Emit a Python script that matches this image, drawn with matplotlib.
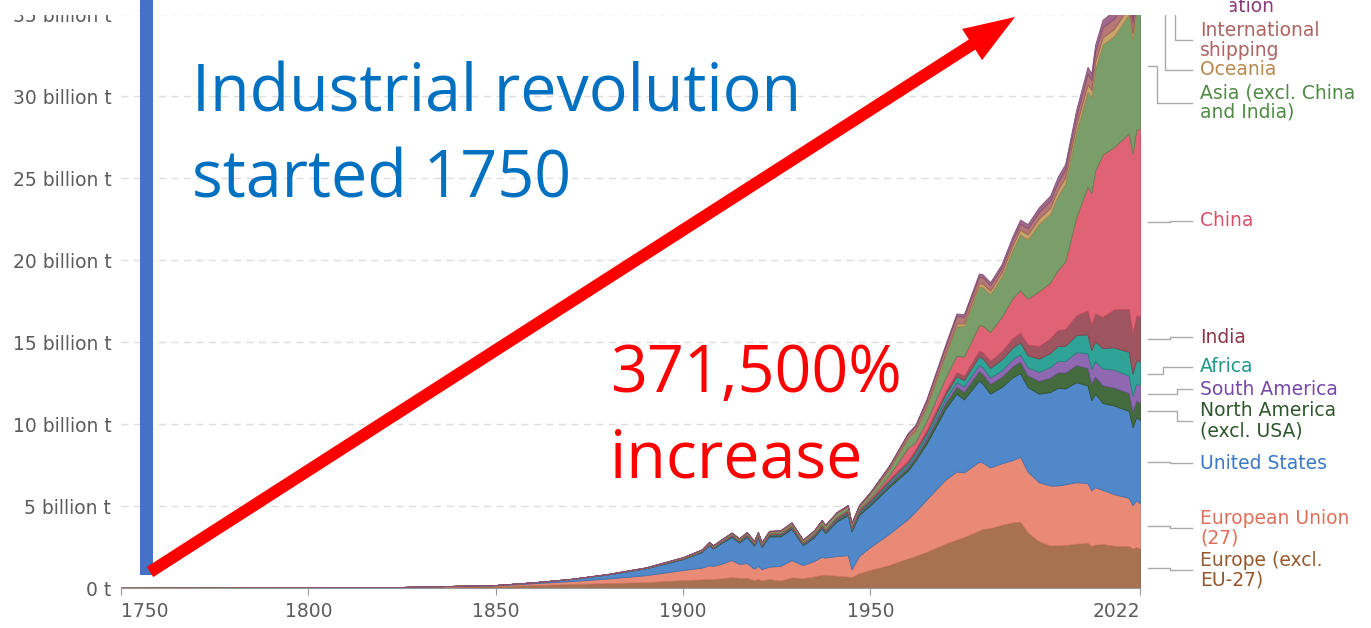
import matplotlib.pyplot as plt
from matplotlib.patches import Rectangle, FancyArrow
import numpy as np

# Annual CO2 emissions by world region, billion tonnes
years = [1750, 1775, 1800, 1825, 1850, 1860, 1870, 1880, 1890, 1900,
         1905, 1907, 1908, 1910, 1913, 1915, 1917, 1919, 1920, 1921,
         1923, 1926, 1929, 1932, 1935, 1937, 1938, 1941, 1944, 1945,
         1947, 1950, 1955, 1960, 1962, 1965, 1970, 1973, 1975, 1979,
         1980, 1982, 1985, 1988, 1990, 1992, 1995, 1998, 2000, 2002,
         2005, 2008, 2009, 2010, 2012, 2015, 2019, 2020, 2021, 2022]

europe_excl_eu27 = [0.009, 0.014, 0.025, 0.05, 0.11, 0.18, 0.24, 0.30, 0.36, 0.48,
                    0.52, 0.56, 0.55, 0.58, 0.66, 0.62, 0.62, 0.48, 0.55, 0.45,
                    0.55, 0.45, 0.65, 0.60, 0.70, 0.80, 0.80, 0.75, 0.70, 0.65,
                    0.90, 1.10, 1.40, 1.80, 1.95, 2.20, 2.70, 2.95, 3.10, 3.50,
                    3.60, 3.65, 3.85, 4.00, 4.05, 3.40, 2.85, 2.60, 2.60, 2.62,
                    2.70, 2.75, 2.55, 2.65, 2.68, 2.58, 2.55, 2.40, 2.50, 2.40]
eu27 = [0.001, 0.002, 0.003, 0.012, 0.05, 0.11, 0.18, 0.28, 0.42, 0.62,
        0.72, 0.82, 0.80, 0.88, 1.05, 0.85, 0.90, 0.70, 0.80, 0.70,
        0.75, 0.90, 1.05, 0.80, 0.95, 1.10, 1.05, 1.20, 1.30, 0.50,
        1.05, 1.40, 1.90, 2.40, 2.70, 3.20, 3.90, 4.15, 3.95, 4.20,
        4.05, 3.70, 3.75, 3.80, 3.95, 3.70, 3.60, 3.65, 3.65, 3.70,
        3.75, 3.65, 3.40, 3.50, 3.30, 3.15, 2.95, 2.65, 2.85, 2.75]
usa = [0.0, 0.0001, 0.0003, 0.002, 0.02, 0.05, 0.12, 0.25, 0.42, 0.66,
       0.95, 1.25, 1.05, 1.25, 1.40, 1.30, 1.60, 1.40, 1.75, 1.35,
       1.85, 1.80, 1.90, 1.20, 1.45, 1.75, 1.50, 2.10, 2.45, 2.30,
       2.50, 2.55, 2.85, 2.95, 3.10, 3.40, 4.30, 4.75, 4.45, 4.95,
       4.80, 4.50, 4.65, 5.05, 5.10, 5.15, 5.40, 5.70, 5.95, 5.85,
       6.10, 5.95, 5.50, 5.70, 5.30, 5.40, 5.30, 4.75, 5.05, 5.10]
north_america_excl_usa = [0, 0, 0, 0, 0.001, 0.003, 0.006, 0.01, 0.015, 0.025,
                          0.035, 0.04, 0.04, 0.045, 0.055, 0.05, 0.06, 0.055, 0.06, 0.055,
                          0.06, 0.065, 0.07, 0.055, 0.06, 0.07, 0.07, 0.085, 0.10, 0.10,
                          0.11, 0.12, 0.16, 0.20, 0.22, 0.27, 0.36, 0.43, 0.47, 0.58,
                          0.60, 0.60, 0.62, 0.68, 0.70, 0.72, 0.78, 0.88, 0.95, 0.97,
                          1.05, 1.07, 1.02, 1.05, 1.08, 1.10, 1.10, 0.97, 1.03, 1.05]
south_america = [0, 0, 0, 0, 0.0005, 0.001, 0.002, 0.003, 0.005, 0.008,
                 0.01, 0.012, 0.012, 0.015, 0.02, 0.018, 0.02, 0.02, 0.022, 0.02,
                 0.025, 0.028, 0.032, 0.028, 0.033, 0.038, 0.04, 0.04, 0.045, 0.05,
                 0.06, 0.07, 0.10, 0.14, 0.16, 0.18, 0.23, 0.28, 0.31, 0.38,
                 0.40, 0.38, 0.39, 0.44, 0.45, 0.48, 0.56, 0.65, 0.70, 0.70,
                 0.78, 0.90, 0.88, 0.95, 1.02, 1.10, 1.05, 0.95, 1.05, 1.05]
africa = [0, 0, 0, 0, 0.0002, 0.0005, 0.001, 0.002, 0.004, 0.01,
          0.015, 0.018, 0.018, 0.022, 0.028, 0.025, 0.03, 0.03, 0.032, 0.03,
          0.033, 0.036, 0.04, 0.035, 0.042, 0.048, 0.05, 0.055, 0.06, 0.065,
          0.075, 0.09, 0.12, 0.15, 0.17, 0.21, 0.30, 0.36, 0.40, 0.52,
          0.55, 0.60, 0.66, 0.70, 0.73, 0.75, 0.80, 0.85, 0.90, 0.93,
          1.05, 1.15, 1.15, 1.20, 1.25, 1.35, 1.45, 1.35, 1.42, 1.45]
india = [0, 0, 0, 0, 0.0005, 0.001, 0.002, 0.005, 0.01, 0.02,
         0.025, 0.028, 0.03, 0.032, 0.04, 0.04, 0.042, 0.045, 0.045, 0.045,
         0.047, 0.05, 0.055, 0.05, 0.055, 0.06, 0.062, 0.07, 0.072, 0.072,
         0.07, 0.07, 0.09, 0.12, 0.14, 0.16, 0.20, 0.24, 0.27, 0.35,
         0.39, 0.43, 0.50, 0.56, 0.58, 0.65, 0.76, 0.89, 0.98, 1.02,
         1.20, 1.45, 1.58, 1.68, 1.90, 2.30, 2.62, 2.45, 2.70, 2.80]
china = [0, 0, 0, 0, 0, 0, 0.0005, 0.001, 0.003, 0.01,
         0.012, 0.014, 0.015, 0.016, 0.02, 0.02, 0.022, 0.022, 0.025, 0.025,
         0.025, 0.028, 0.03, 0.03, 0.035, 0.04, 0.04, 0.05, 0.05, 0.04,
         0.05, 0.08, 0.25, 0.78, 0.44, 0.55, 0.80, 1.00, 1.16, 1.55,
         1.60, 1.75, 2.10, 2.45, 2.60, 2.80, 3.35, 3.40, 3.65, 4.10,
         6.00, 7.55, 8.00, 8.70, 9.90, 9.90, 10.70, 10.95, 11.35, 11.45]
asia_excl_china_india = [0, 0, 0, 0, 0.0005, 0.001, 0.002, 0.005, 0.01, 0.03,
                         0.04, 0.05, 0.05, 0.055, 0.07, 0.07, 0.085, 0.09, 0.09, 0.085,
                         0.09, 0.10, 0.11, 0.10, 0.13, 0.16, 0.17, 0.19, 0.18, 0.10,
                         0.13, 0.22, 0.35, 0.55, 0.65, 0.85, 1.35, 1.80, 1.85, 2.35,
                         2.35, 2.30, 2.45, 2.95, 3.40, 3.60, 4.10, 4.20, 4.50, 4.75,
                         5.20, 5.80, 5.85, 6.20, 6.70, 6.75, 7.25, 6.95, 7.25, 7.50]
oceania = [0, 0, 0, 0, 0.0005, 0.001, 0.002, 0.004, 0.007, 0.012,
           0.014, 0.016, 0.016, 0.018, 0.022, 0.02, 0.02, 0.02, 0.022, 0.022,
           0.024, 0.026, 0.028, 0.024, 0.028, 0.03, 0.032, 0.035, 0.038, 0.038,
           0.042, 0.05, 0.06, 0.08, 0.09, 0.11, 0.15, 0.17, 0.18, 0.21,
           0.22, 0.23, 0.25, 0.28, 0.30, 0.31, 0.33, 0.37, 0.38, 0.39,
           0.42, 0.44, 0.45, 0.45, 0.45, 0.45, 0.46, 0.44, 0.44, 0.44]
intl_shipping = [0, 0, 0, 0, 0, 0, 0, 0, 0, 0.01,
                 0.012, 0.014, 0.014, 0.016, 0.02, 0.02, 0.02, 0.02, 0.025, 0.025,
                 0.03, 0.035, 0.04, 0.035, 0.04, 0.045, 0.045, 0.05, 0.06, 0.06,
                 0.07, 0.10, 0.15, 0.22, 0.25, 0.30, 0.40, 0.45, 0.40, 0.40,
                 0.38, 0.32, 0.30, 0.33, 0.35, 0.37, 0.40, 0.42, 0.45, 0.48,
                 0.55, 0.65, 0.60, 0.62, 0.62, 0.63, 0.68, 0.62, 0.64, 0.65]
intl_aviation = [0, 0, 0, 0, 0, 0, 0, 0, 0, 0,
                 0, 0, 0, 0, 0, 0, 0, 0, 0, 0,
                 0, 0, 0, 0, 0, 0, 0, 0.005, 0.01, 0.01,
                 0.012, 0.02, 0.04, 0.06, 0.07, 0.09, 0.14, 0.16, 0.16, 0.19,
                 0.19, 0.19, 0.21, 0.24, 0.25, 0.26, 0.29, 0.32, 0.35, 0.34,
                 0.40, 0.42, 0.40, 0.42, 0.45, 0.50, 0.60, 0.30, 0.34, 0.45]

series = [europe_excl_eu27, eu27, usa, north_america_excl_usa, south_america, africa,
          india, china, asia_excl_china_india, oceania, intl_shipping, intl_aviation]
labels = ["Europe (excl.\nEU-27)", "European Union\n(27)", "United States",
          "North America\n(excl. USA)", "South America", "Africa", "India", "China",
          "Asia (excl. China\nand India)", "Oceania", "International\nshipping",
          "International\naviation"]
fill_colors = ["#a8714f", "#e98a76", "#5088c9", "#436b3e", "#8e68b0", "#2ea396",
               "#9e5560", "#e06275", "#7a9e6a", "#c9a46a", "#b67876", "#a0698e"]
edge_colors = ["#8a5a3c", "#d07563", "#4070b0", "#30522c", "#73519a", "#1f8679",
               "#83404a", "#c64c60", "#5e8250", "#aa8650", "#9a5e5c", "#845074"]
text_colors = ["#96592f", "#e0705c", "#3b78c6", "#2f572c", "#7848a8", "#1e9a8a",
               "#8c3444", "#d8506a", "#4f8a45", "#b8884c", "#ad6462", "#8a3a78"]
# label block centres (billion t) and elbow positions of the connectors (px)
label_y = [1.10, 3.66, 7.62, 10.2, 12.13, 13.48, 15.3, 22.4, 29.6, 31.6, 33.4, 36.05]
elbow_px = [1170, 1170, 1170, 1177, 1177, 1163, 1170, 1170, 1157, 1165, 1175, 1185]

W, H = 1371, 628
x0_px, x1_px, y0_px = 121, 1140, 588
px_per_bt = 16.4

fig = plt.figure(figsize=(W / 100, H / 100), dpi=100)
ax = fig.add_axes([x0_px / W, (H - y0_px) / H, (x1_px - x0_px) / W, y0_px / H])

polys = ax.stackplot(years, *series, colors=fill_colors, linewidth=0.6)
for p, ec in zip(polys, edge_colors):
    p.set_edgecolor(ec)

ax.set_xlim(1750, 2022)
ax.set_ylim(0, y0_px / px_per_bt)
ax.set_yticks(range(0, 40, 5))
ax.set_yticklabels(["0 t"] + [f"{v} billion t" for v in range(5, 40, 5)])
ax.set_xticks([1750, 1800, 1850, 1900, 1950, 2022])
ax.set_xticklabels(["1750", "1800", "1850", "1900", "1950", "2022"])
xt = ax.get_xticklabels()
xt[0].set_ha("left")
xt[-1].set_ha("right")

ax.yaxis.grid(True, color="#dddddd", linestyle=(0, (5, 4)), linewidth=1)
ax.set_axisbelow(True)
for s in ["left", "right", "top"]:
    ax.spines[s].set_visible(False)
ax.spines["bottom"].set_color("#999999")
ax.tick_params(axis="y", length=0, pad=7, labelsize=13.5, labelcolor="#5c5c5c")
ax.tick_params(axis="x", length=5, color="#999999", pad=5, labelsize=13.5,
               labelcolor="#5c5c5c")
ax.patch.set_alpha(0)

# right-hand labels with connector lines
def fx(px):
    return (px - x0_px) / (x1_px - x0_px)

last = np.array([s[-1] for s in series])
mids = np.cumsum(last) - last / 2
tr = ax.get_yaxis_transform()
for name, mid, ly, ex, tc in zip(labels, mids, label_y, elbow_px, text_colors):
    ax.plot([fx(1148), fx(ex), fx(ex), fx(1192)], [mid, mid, ly, ly],
            color="#aaaaaa", lw=1, transform=tr, clip_on=False)
    ax.text(fx(1200), ly, name, color=tc, fontsize=13.5, va="center", ha="left",
            linespacing=1.05, transform=tr, clip_on=False)

# slide overlay drawn in pixel coordinates
ov = fig.add_axes([0, 0, 1, 1])
ov.set_xlim(0, W)
ov.set_ylim(H, 0)
ov.axis("off")
ov.patch.set_alpha(0)
ov.add_patch(Rectangle((0, 0), 1230, 15, color="white", lw=0))
ov.add_patch(Rectangle((140, 0), 13, 575, color="#4472c4", lw=0))
ov.add_patch(FancyArrow(150, 572, 865, -555, width=12, head_width=37, head_length=51,
                        length_includes_head=True, color="#ff0000", lw=0))

big = dict(fontsize=46.5, family="Open Sans", va="baseline", ha="left")
ov.text(192, 112, "Industrial revolution", color="#0070c0", **big)
ov.text(192, 197, "started 1750", color="#0070c0", **big)
ov.text(610, 392, "371,500%", color="#ff0000", **big)
ov.text(610, 477, "increase", color="#ff0000", **big)

fig.savefig("out.png", dpi=100)
